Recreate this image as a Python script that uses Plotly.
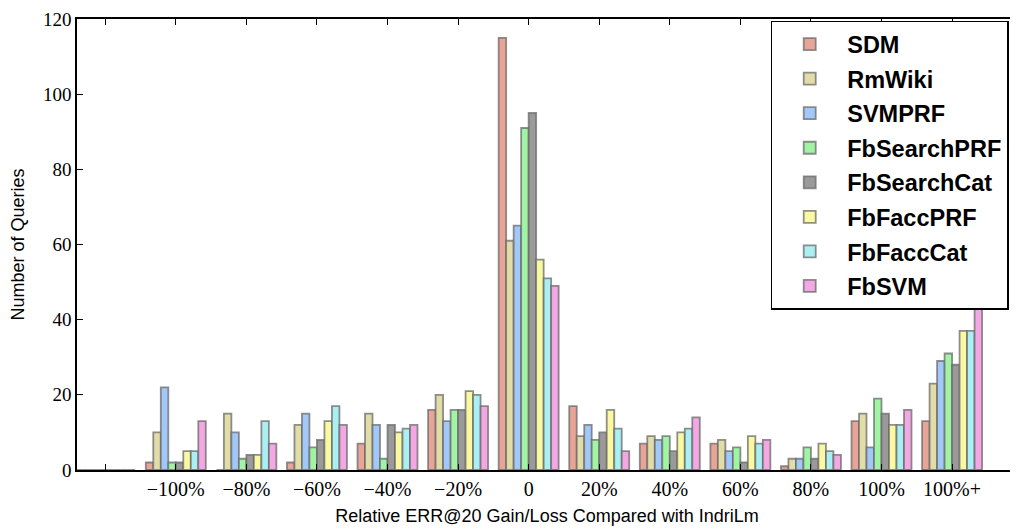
import plotly.graph_objects as go

categories = ["", "\u2212100%", "\u221280%", "\u221260%", "\u221240%", "\u221220%", "0",
              "20%", "40%", "60%", "80%", "100%", "100%+"]

series_names = ["SDM", "RmWiki", "SVMPRF", "FbSearchPRF", "FbSearchCat",
                "FbFaccPRF", "FbFaccCat", "FbSVM"]

SDM         = [0, 2, 0, 2, 7, 16, 115, 17, 7, 7, 1, 13, 13]
RmWiki      = [0, 10, 15, 12, 15, 20, 61, 9, 9, 8, 3, 15, 23]
SVMPRF      = [0, 22, 10, 15, 12, 13, 65, 12, 8, 5, 3, 6, 29]
FbSearchPRF = [0, 2, 3, 6, 3, 16, 91, 8, 9, 6, 6, 19, 31]
FbSearchCat = [0, 2, 4, 8, 12, 16, 95, 10, 5, 2, 3, 15, 28]
FbFaccPRF   = [0, 5, 4, 13, 10, 21, 56, 16, 10, 9, 7, 12, 37]
FbFaccCat   = [0, 5, 13, 17, 11, 20, 51, 11, 11, 7, 5, 12, 37]
FbSVM       = [0, 13, 7, 12, 12, 17, 49, 5, 14, 8, 4, 16, 43]

values = [SDM, RmWiki, SVMPRF, FbSearchPRF, FbSearchCat, FbFaccPRF, FbFaccCat, FbSVM]
colors = ["#E8A496", "#E2DDA8", "#A2C8F8", "#A0F4A4", "#9A9A9A",
          "#FBF8A2", "#AAF0F2", "#F3A8E4"]

y_ticks = [0, 20, 40, 60, 80, 100, 120]

xpos = list(range(len(categories)))

fig = go.Figure()
for i, (name, vals, col) in enumerate(zip(series_names, values, colors)):
    fig.add_trace(go.Bar(
        x=xpos, y=vals, name=name,
        marker=dict(color=col, line=dict(color="rgba(105,105,105,0.75)", width=1.8)),
        legendgroup=name,
    ))

fig.update_layout(
    width=1010, height=521,
    margin=dict(l=69, r=1, t=11, b=59, autoexpand=False),
    paper_bgcolor="white", plot_bgcolor="white",
    barmode="group", bargap=0.15, bargroupgap=0,
    showlegend=True,
    legend=dict(
        x=0.738, y=0.996, xanchor="left", yanchor="top",
        bgcolor="white", bordercolor="black", borderwidth=1.5,
        font=dict(family="Liberation Sans, Arial, sans-serif", size=23.5, color="black", weight="bold"),
        tracegroupgap=1, itemwidth=65,
    ),
    xaxis=dict(
        range=[-0.4, 12.92], automargin=False,
        tickmode="array", tickvals=xpos, ticktext=categories,
        ticks="inside", ticklen=6, tickwidth=1, tickcolor="black",
        showline=True, linecolor="black", linewidth=1.5, mirror="allticks",
        showgrid=False, zeroline=False,
        tickfont=dict(family="Liberation Serif, DejaVu Serif, serif", size=20, color="black"),
        title=dict(text="Relative ERR@20 Gain/Loss Compared with IndriLm",
                   font=dict(family="Liberation Sans, Arial, sans-serif", size=18, color="black"),
                   standoff=11),
    ),
    yaxis=dict(
        range=[0, 120], automargin=True,
        tickmode="array", tickvals=y_ticks, ticktext=[str(v) for v in y_ticks],
        ticks="inside", ticklen=6, tickwidth=1, tickcolor="black",
        showline=True, linecolor="black", linewidth=1.5, mirror="allticks",
        showgrid=False, zeroline=False, ticklabeloverflow="allow",
        tickfont=dict(family="Liberation Serif, DejaVu Serif, serif", size=19, color="black"),
        title=dict(text="Number of Queries",
                   font=dict(family="Liberation Sans, Arial, sans-serif", size=18, color="black"),
                   standoff=16),
    ),
)

fig.write_html("out.html")
